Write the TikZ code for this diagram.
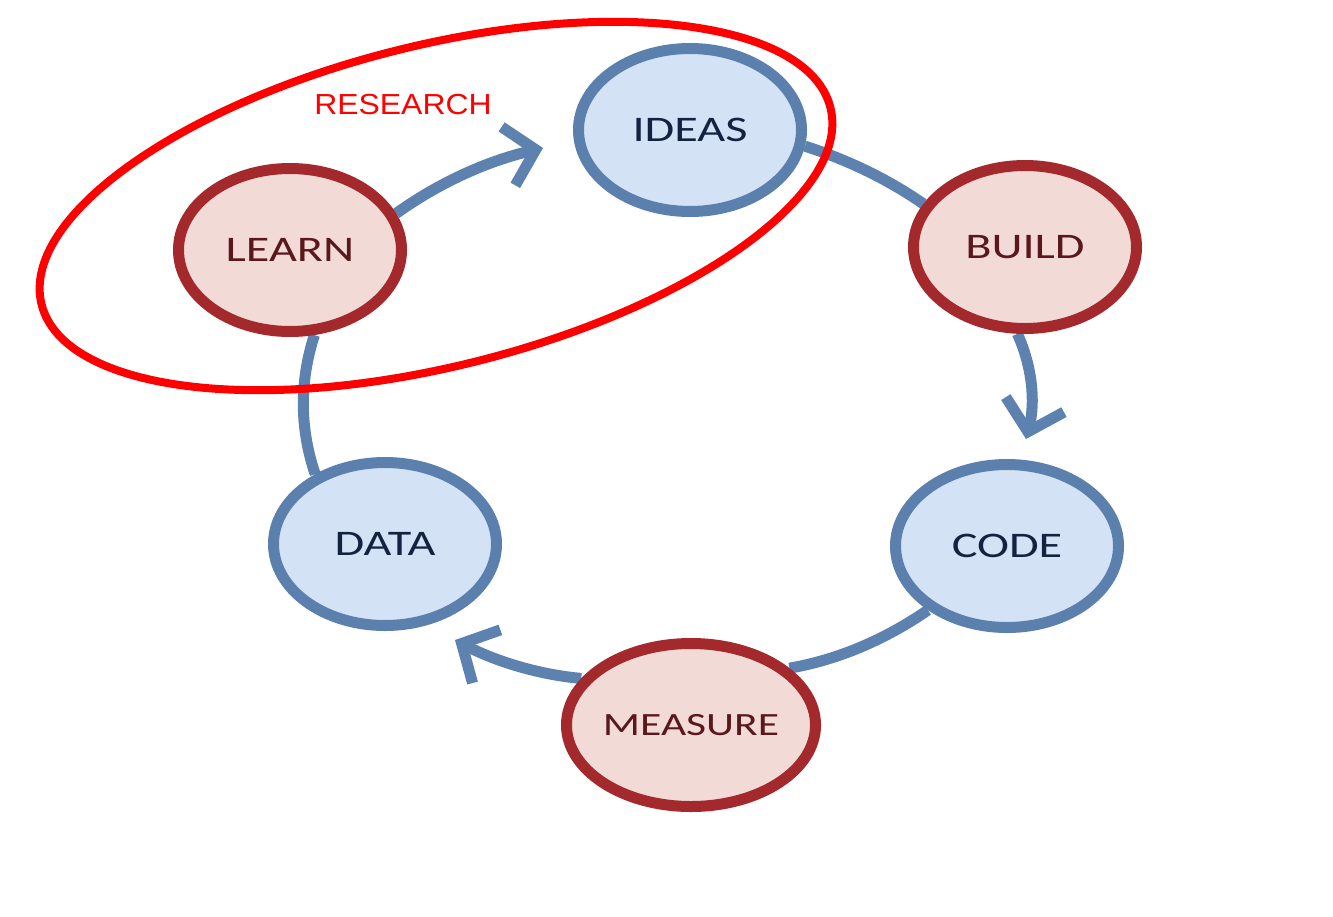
\documentclass[tikz,border=0pt]{standalone}
\usepackage{fontspec}
\setmainfont{Carlito}
\newfontfamily\nodefont[FakeStretch=1.34]{Carlito}
\newfontfamily\labelfont[FakeStretch=1.1]{Liberation Sans}
\usetikzlibrary{shapes.geometric,arrows.meta,backgrounds}
\definecolor{bluefill}{HTML}{D3E3F5}
\definecolor{blueline}{HTML}{5B80AD}
\definecolor{redfill}{HTML}{F2DBD7}
\definecolor{redline}{HTML}{A3292D}
\definecolor{bluetext}{HTML}{13223F}
\definecolor{redtext}{HTML}{5A181C}
\definecolor{linkcol}{HTML}{5D82AF}
\begin{document}
\begin{tikzpicture}[x=1pt,y=-1pt,
  stage/.style={ellipse, line width=11pt, minimum width=223pt, minimum height=163pt, inner sep=0pt, font=\nodefont\fontsize{36}{40}\selectfont},
  bluestage/.style={stage, draw=blueline, fill=bluefill, text=bluetext},
  redstage/.style={stage, draw=redline, fill=redfill, text=redtext},
  link/.style={draw=linkcol, line width=11pt},
  arrowlink/.style={link, -{Straight Barb[length=28pt,width=60pt,line width=11pt]}},
  region/.style={draw=red, line width=8pt, ellipse, inner sep=0pt}
]
\useasboundingbox (0,0) rectangle (1333,916);
\begin{pgfonlayer}{background}
\fill[white] (0,0) rectangle (1333,916);
\end{pgfonlayer}

\node[bluestage] (ideas) at (690,130) {IDEAS};
\node[redstage] (build) at (1025,247) {BUILD};
\node[bluestage] (code) at (1007,546) {CODE};
\node[redstage, font=\nodefont\fontsize{32.5}{36}\selectfont] (measure) at (691,725) {MEASURE};
\node[bluestage] (data) at (385,544) {DATA};
\node[redstage] (learn) at (290,250) {LEARN};

\coordinate (tipA) at (543,148);
\coordinate (tipB) at (1026,439);
\coordinate (tipC) at (455,640);

\begin{scope}[on background layer]
\draw[arrowlink] (learn.19) .. controls (438.7,183) and (486.3,161.3) .. (tipA);
\draw[link] (ideas.-8) .. controls (847,159.7) and (886.3,178.3) .. (build.157);
\draw[arrowlink] (build.-95) .. controls (1032.7,367.7) and (1035.3,403) .. (tipB);
\draw[link] (code.-141) .. controls (884.7,640) and (837,660) .. (measure.30);
\draw[arrowlink] (measure.157) .. controls (539,674.7) and (495.7,661.3) .. (tipC);
\draw[link] (data.135) .. controls (299.3,427) and (299.7,381) .. (learn.-74);
\end{scope}

\node[text=red, font=\labelfont\fontsize{29}{32}\selectfont] (research) at (403,105) {RESEARCH};
\node[region, minimum width=813pt, minimum height=321pt, rotate=14] (area) at (436,206) {};
\end{tikzpicture}
\end{document}
